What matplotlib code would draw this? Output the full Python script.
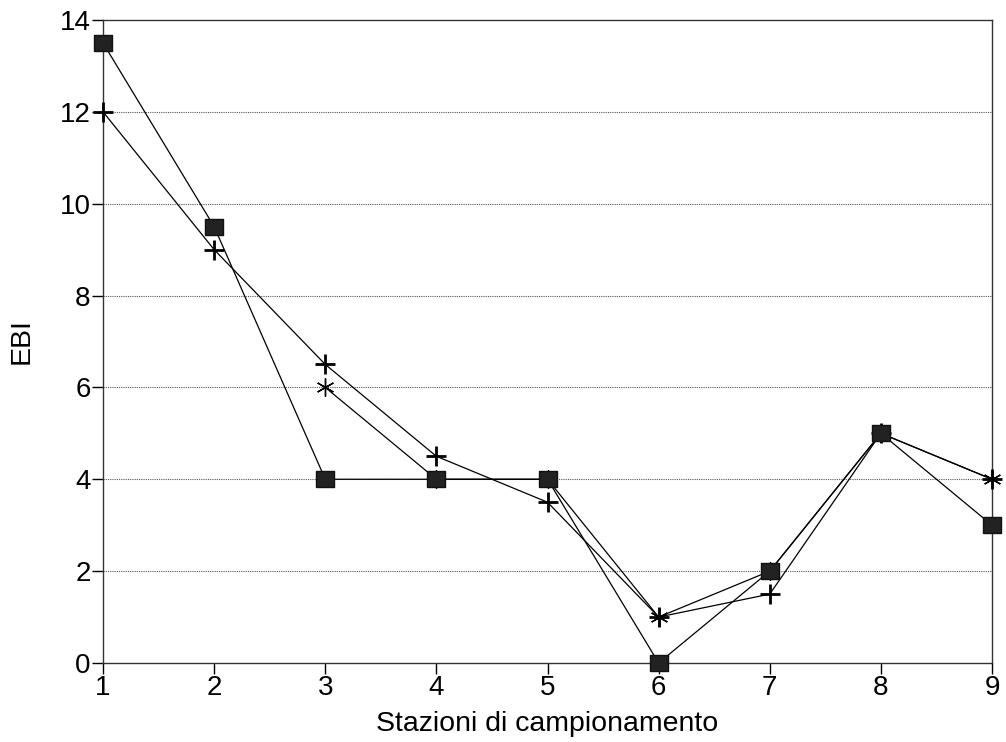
import numpy as np
import matplotlib
matplotlib.use("Agg")
import matplotlib.pyplot as plt

plt.rcParams['font.family'] = ['Liberation Sans', 'DejaVu Sans']

# Stations and EBI values
stazioni = [1, 2, 3, 4, 5, 6, 7, 8, 9]
ebi_quadrati = [13.5, 9.5, 4, 4, 4, 0, 2, 5, 3]
ebi_croci = [12, 9, 6.5, 4.5, 3.5, 1, 1.5, 5, 4]
stazioni_asterischi = [3, 4, 5, 6, 7, 8, 9]
ebi_asterischi = [6, 4, 4, 1, 2, 5, 4]

fig = plt.figure(figsize=(10.06, 7.42), dpi=100)
ax = fig.add_axes([0.1024, 0.1065, 0.8837, 0.8666])

# horizontal dotted grid
for y in range(2, 14, 2):
    ax.axhline(y, color='#555555', lw=0.8, ls=(0, (1, 1)), zorder=1)

ax.plot(stazioni_asterischi, ebi_asterischi, color='black', lw=0.9,
        marker=(6, 2, 0), markersize=13, mew=1.0, clip_on=False, zorder=3)
ax.plot(stazioni, ebi_croci, color='black', lw=0.9,
        marker='+', markersize=14, mew=2.0, clip_on=False, zorder=3)
# slightly wide rectangle markers, like the original
rett = [(-1.2, -1), (1.2, -1), (1.2, 1), (-1.2, 1), (-1.2, -1)]
ax.plot(stazioni, ebi_quadrati, color='black', lw=0.9,
        marker=rett, markersize=13, mfc='#222222', mec='#111111',
        clip_on=False, zorder=4)

ax.set_xlim(1, 9)
ax.set_ylim(0, 14)
ax.set_xticks(stazioni)
ax.set_yticks(range(0, 15, 2))
ax.tick_params(axis='both', direction='out', length=8, width=1, labelsize=20,
               pad=1)
for s in ax.spines.values():
    s.set_linewidth(1.0)
    s.set_color('#333333')

ax.set_xlabel('Stazioni di campionamento', fontsize=20.5, labelpad=7)
ax.set_ylabel('EBI', fontsize=20.5, labelpad=18)

fig.savefig('out.png', dpi=100)
